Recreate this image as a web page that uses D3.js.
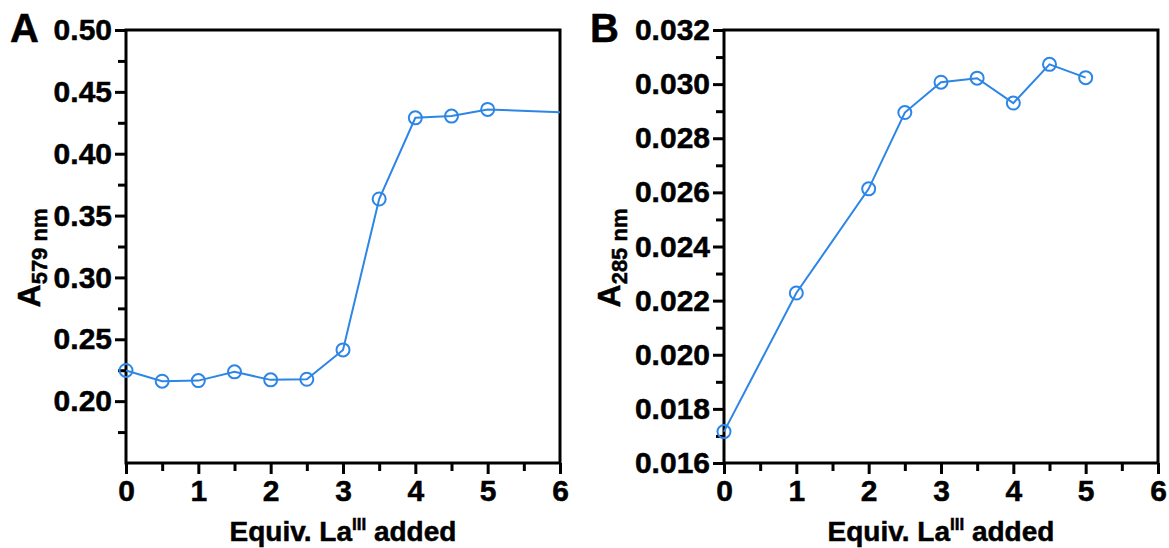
<!DOCTYPE html>
<html><head><meta charset="utf-8">
<script src="https://cdn.jsdelivr.net/npm/d3@7"></script>
<style>
html,body{margin:0;padding:0;background:#fff;}
svg text{font-family:"Liberation Sans",Arial,Helvetica,sans-serif;font-weight:bold;fill:#000;stroke:#000;stroke-width:0.5px;}
</style></head>
<body>
<svg id="chart" width="1169" height="548"></svg>
<script>
// ---- data ----
const equivA = [0, 0.5, 1, 1.5, 2, 2.5, 3, 3.5, 4, 4.5, 5, 6.5];
const absA579 = [0.2248, 0.2161, 0.2166, 0.2237, 0.2172, 0.2177, 0.2414, 0.3634, 0.4290, 0.4304, 0.4358, 0.4325];
const equivB = [0, 1, 2, 2.5, 3, 3.5, 4, 4.5, 5];
const absB285 = [0.01716, 0.02228, 0.02613, 0.02895, 0.03007, 0.03022, 0.02930, 0.03073, 0.03024];
const xTicks = [0, 1, 2, 3, 4, 5, 6];
const xMinor = [0.5, 1.5, 2.5, 3.5, 4.5, 5.5];
const yTicksA = [0.20, 0.25, 0.30, 0.35, 0.40, 0.45, 0.50];
const yMinorA = [0.175, 0.225, 0.275, 0.325, 0.375, 0.425, 0.475];
const yTicksB = [0.016, 0.018, 0.020, 0.022, 0.024, 0.026, 0.028, 0.030, 0.032];
const yMinorB = [0.017, 0.019, 0.021, 0.023, 0.025, 0.027, 0.029, 0.031];

const svg = d3.select("#chart");
const blue = "#2d86e6";

function panel(opts) {
  const g = svg.append("g");
  const x = d3.scaleLinear().domain([0, 6]).range([opts.left, opts.right]);
  const y = d3.scaleLinear().domain(opts.yDomain).range([463, 30]);

  const clipId = "clip" + opts.letter;
  svg.append("clipPath").attr("id", clipId).append("rect")
    .attr("x", opts.left - 10).attr("y", 20).attr("width", opts.right - opts.left + 10).attr("height", 460);

  // frame
  g.append("rect").attr("x", opts.left).attr("y", 30)
    .attr("width", opts.right - opts.left).attr("height", 433)
    .attr("fill", "none").attr("stroke", "#000").attr("stroke-width", 3);

  // x axis
  const xa = g.append("g").attr("transform", "translate(0,463)")
    .call(d3.axisBottom(x).tickValues(xTicks).tickFormat(d3.format("d")).tickSize(11).tickSizeOuter(0).tickPadding(6));
  const xm = g.append("g").attr("transform", "translate(0,463)")
    .call(d3.axisBottom(x).tickValues(xMinor).tickFormat("").tickSize(8).tickSizeOuter(0));
  // y axis
  const ya = g.append("g").attr("transform", `translate(${opts.left},0)`)
    .call(d3.axisLeft(y).tickValues(opts.yTicks).tickFormat(d3.format(opts.fmt)).tickSize(11).tickSizeOuter(0).tickPadding(3));
  const ym = g.append("g").attr("transform", `translate(${opts.left},0)`)
    .call(d3.axisLeft(y).tickValues(opts.yMinor).tickFormat("").tickSize(8).tickSizeOuter(0));
  [xa, xm, ya, ym].forEach(a => {
    a.select(".domain").remove();
    a.selectAll("line").attr("stroke", "#000").attr("stroke-width", 3);
    a.selectAll("text").style("font-size", "30px").style("font-weight", "bold")
      .style("font-family", '"Liberation Sans",Arial,sans-serif').attr("fill", "#000");
  });

  // series
  const pts = opts.xs.map((d, i) => [d, opts.ys[i]]);
  const line = d3.line().x(d => x(d[0])).y(d => y(d[1]));
  const sg = g.append("g").attr("clip-path", `url(#${clipId})`);
  sg.append("path").datum(pts).attr("d", line).attr("fill", "none")
    .attr("stroke", blue).attr("stroke-width", 2);
  sg.selectAll("circle").data(pts.filter(d => d[0] <= 6)).join("circle")
    .attr("cx", d => x(d[0])).attr("cy", d => y(d[1])).attr("r", 6.5)
    .attr("fill", "none").attr("stroke", blue).attr("stroke-width", 2);

  // panel letter
  g.append("text").attr("x", opts.letterX).attr("y", 42).style("font-size", "40px").text(opts.letter);

  // y label
  const yl = g.append("text")
    .attr("transform", `translate(${opts.ylabelX},${258}) rotate(-90)`)
    .attr("text-anchor", "middle").style("font-size", "32px");
  yl.append("tspan").text("A");
  yl.append("tspan").attr("dy", 7).style("font-size", "22px").text(opts.sub);

  // x label
  const xl = g.append("text").attr("x", (opts.left + opts.right) / 2).attr("y", 541)
    .attr("text-anchor", "middle").style("font-size", "28px");
  xl.append("tspan").text("Equiv. La");
  xl.append("tspan").attr("dy", -11).style("font-size", "17px").text("III");
  xl.append("tspan").attr("dy", 11).text(" added");
}

panel({letter: "A", letterX: 10, left: 126, right: 560, yDomain: [0.15, 0.50],
  yTicks: yTicksA, yMinor: yMinorA, fmt: ".2f", xs: equivA, ys: absA579, ylabelX: 40, sub: "579 nm"});
panel({letter: "B", letterX: 590, left: 724, right: 1158, yDomain: [0.016, 0.032],
  yTicks: yTicksB, yMinor: yMinorB, fmt: ".3f", xs: equivB, ys: absB285, ylabelX: 620, sub: "285 nm"});
</script>
</body></html>
